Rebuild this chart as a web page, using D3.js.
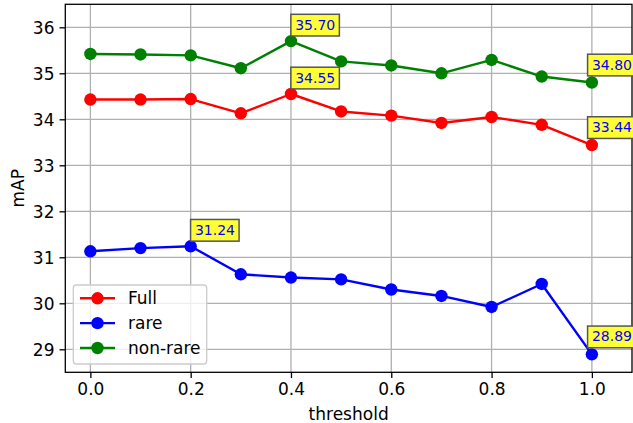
<!DOCTYPE html>
<html><head><meta charset="utf-8">
<script src="https://cdn.jsdelivr.net/npm/d3@7"></script>
<style>
html,body{margin:0;padding:0;background:#fff;}
text{font-family:"DejaVu Sans",sans-serif;}
</style></head>
<body><svg id="c" width="633" height="423"></svg>
<script>
const thresholds = [0.0,0.1,0.2,0.3,0.4,0.5,0.6,0.7,0.8,0.9,1.0];
const fullVals    = [34.43,34.43,34.44,34.13,34.55,34.17,34.08,33.92,34.05,33.88,33.44];
const rareVals    = [31.13,31.20,31.24,30.63,30.56,30.52,30.30,30.16,29.92,30.42,28.89];
const nonRareVals = [35.42,35.41,35.39,35.11,35.70,35.26,35.17,35.00,35.29,34.93,34.80];
const seriesNames = ["Full","rare","non-rare"];
const seriesColors = ["#ff0000","#0000ff","#008000"];
const xTicks = [0.0,0.2,0.4,0.6,0.8,1.0];
const yTicks = [29,30,31,32,33,34,35,36];

const series = [fullVals, rareVals, nonRareVals].map((v,i)=>({name:seriesNames[i], color:seriesColors[i], values:v}));

const FS = "17px";
const svg = d3.select("#c");
const L=65.3, R=632, T=4.3, B=372.3;
const x = d3.scaleLinear().domain([-0.05,1.08]).range([L,R]);
const y = d3.scaleLinear().domain([28.5,36.5]).range([B,T]);

// grid
const g = svg.append("g");
g.selectAll(".gx").data(xTicks).enter().append("line")
  .attr("x1",d=>x(d)).attr("x2",d=>x(d)).attr("y1",T).attr("y2",B)
  .attr("stroke","#b0b0b0").attr("stroke-width",1.3);
g.selectAll(".gy").data(yTicks).enter().append("line")
  .attr("y1",d=>y(d)).attr("y2",d=>y(d)).attr("x1",L).attr("x2",R)
  .attr("stroke","#b0b0b0").attr("stroke-width",1.3);

// axes
const xAxis = d3.axisBottom(x).tickValues(xTicks).tickFormat(d3.format(".1f")).tickSizeOuter(0).tickSize(5.8).tickPadding(5);
const yAxis = d3.axisLeft(y).tickValues(yTicks).tickFormat(d3.format("d")).tickSizeOuter(0).tickSize(5.8).tickPadding(5);
const gx = svg.append("g").attr("transform",`translate(0,${B})`).call(xAxis);
const gy = svg.append("g").attr("transform",`translate(${L},0)`).call(yAxis);
[gx,gy].forEach(a=>{
  a.select(".domain").remove();
  a.selectAll("line").attr("stroke","#000").attr("stroke-width",1.3);
  a.selectAll("text").attr("fill","#000").style("font-size",FS).style("font-family","DejaVu Sans");
});
gx.selectAll("text").attr("dy","0.72em");
gy.selectAll("text").attr("dy","0.36em");

// frame
svg.append("rect").attr("x",L).attr("y",T).attr("width",R-L).attr("height",B-T)
  .attr("fill","none").attr("stroke","#000").attr("stroke-width",1.3);

// labels
svg.append("text").attr("x",(L+R)/2).attr("y",419.5).attr("text-anchor","middle")
  .style("font-size",FS).text("threshold");
svg.append("text").attr("transform",`translate(24,${(T+B)/2}) rotate(-90)`).attr("text-anchor","middle")
  .style("font-size",FS).text("mAP");

// lines
const line = d3.line().x((d,i)=>x(thresholds[i])).y(d=>y(d));
series.forEach(s=>{
  const sg = svg.append("g");
  sg.append("path").datum(s.values).attr("d",line).attr("fill","none")
    .attr("stroke",s.color).attr("stroke-width",2.4).attr("stroke-linejoin","round");
  sg.selectAll("circle").data(s.values).enter().append("circle")
    .attr("cx",(d,i)=>x(thresholds[i])).attr("cy",d=>y(d)).attr("r",6.2).attr("fill",s.color);
});

// annotations: max and last of each series
series.forEach(s=>{
  const imax = d3.maxIndex(s.values);
  const ilast = s.values.length-1;
  [imax, ilast].forEach(i=>{
    const px = x(thresholds[i]), py = y(s.values[i]);
    const isLast = i===ilast;
    const tx = px + (isLast ? 0 : 4.2);
    const ty = py - (isLast ? 13 : 11.5);
    const ag = svg.append("g");
    const rect = ag.append("rect");
    const t = ag.append("text").attr("x",tx).attr("y",ty).attr("fill","#0000ff")
      .style("font-size","14px").text(s.values[i].toFixed(2));
    const w = t.node().getComputedTextLength();
    rect.attr("x",tx-4.3).attr("y",ty-15.3).attr("width",w+8.4).attr("height",21.7)
      .attr("fill","#ffff33").attr("stroke","#555").attr("stroke-width",1.5);
  });
});

// legend
const lg = svg.append("g");
lg.append("rect").attr("x",73.3).attr("y",285).attr("width",133.4).attr("height",79).attr("rx",3)
  .attr("fill","#fff").attr("fill-opacity",0.8).attr("stroke","#cccccc").attr("stroke-width",1.3);
series.forEach((s,i)=>{
  const ly = 298.3 + i*24.85;
  lg.append("line").attr("x1",80).attr("x2",115).attr("y1",ly).attr("y2",ly)
    .attr("stroke",s.color).attr("stroke-width",2.4);
  lg.append("circle").attr("cx",97.5).attr("cy",ly).attr("r",6.2).attr("fill",s.color);
  lg.append("text").attr("x",128).attr("y",ly).attr("dy","0.36em")
    .style("font-size",FS).text(s.name);
});
</script></body></html>
